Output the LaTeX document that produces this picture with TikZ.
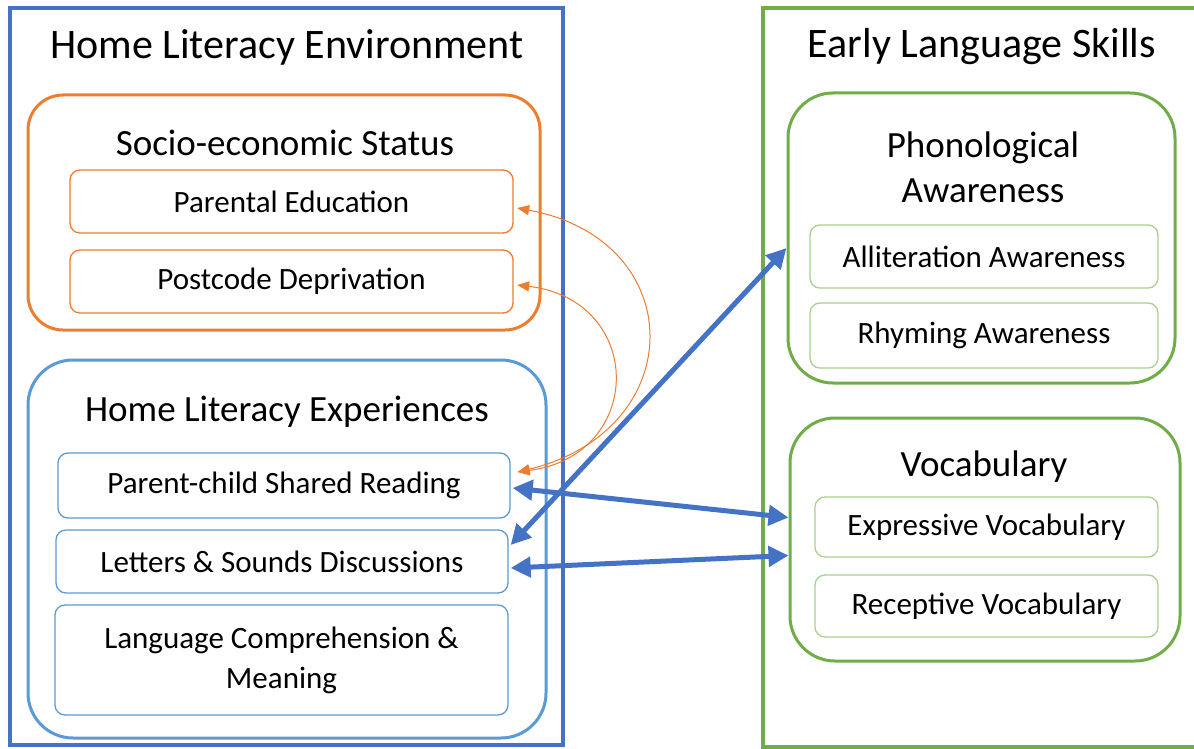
\documentclass[tikz,border=0pt]{standalone}
\usepackage{fontspec}
\setmainfont{Carlito}
\usepackage{tikz}
\usetikzlibrary{positioning}
\usetikzlibrary{arrows.meta}
\definecolor{hleblue}{HTML}{4472C4}
\definecolor{expblue}{HTML}{5B9BD5}
\definecolor{sesorange}{HTML}{ED7D31}
\definecolor{elsgreen}{HTML}{70AD47}
\definecolor{itemgreen}{HTML}{A9D18E}
\newcommand\headfont{\fontsize{42}{50}\selectfont}
\newcommand\groupfont{\fontsize{37}{45}\selectfont}
\newcommand\itemfont{\fontsize{31}{40}\selectfont}
\tikzset{size/.style 2 args={minimum width=#1pt, minimum height=#2pt}}
\tikzset{frame/.style={draw, line width=4pt, inner sep=0pt}}
\tikzset{group/.style={draw, line width=3pt, rounded corners=40pt, inner sep=0pt}}
\tikzset{item/.style={draw, line width=1.3pt, rounded corners=10pt, inner sep=0pt, font=\itemfont, align=center}}
\tikzset{headline/.style={font=\headfont}}
\tikzset{groupline/.style={font=\groupfont, align=center}}
\tikzset{link/.style={hleblue, line width=5pt, {Triangle[length=20pt,width=20pt]}-{Triangle[length=20pt,width=20pt]}}}
\tikzset{seslink/.style={sesorange, line width=1pt, {Triangle[length=12pt,width=10pt]}-{Triangle[length=12pt,width=10pt]}}}

\begin{document}
\begin{tikzpicture}[x=1pt,y=-1pt]
\useasboundingbox (0,0) rectangle (1194,749);
\fill[white] (0,0) rectangle (1194,749);
% home literacy environment
\node[frame, draw=hleblue, size={553}{737}] (hle) at (286.5,376.5) {};
\node[headline] (hletitle) at (287,47) {Home Literacy Environment};
\node[group, draw=sesorange, size={512}{235}, rounded corners=35pt] (ses) at (284,212.5) {};
\node[groupline] (sestitle) at (285,143) {Socio-economic Status};
\node[item, draw=sesorange, size={443}{63}] (pared) at (291.5,201.5) {Parental Education};
\node[item, draw=sesorange, size={443}{63}] (postcode) at (291.5,281.5) {Postcode Deprivation};
\node[group, draw=expblue, size={518}{378}, rounded corners=45pt] (hlexp) at (287,549) {};
\node[groupline] (hlexptitle) at (287,412) {Home Literacy Experiences};
\node[item, draw=expblue, size={452}{65}] (shared) at (284,485.5) {Parent-child Shared Reading};
\node[item, draw=expblue, size={452}{63}] (letters) at (282,561.5) {Letters \& Sounds Discussions};
\node[item, draw=expblue, size={453}{110}] (langcomp) at (281.5,660) {Language Comprehension \&\\Meaning};
% early language skills
\begin{scope}
\clip (0,0) rectangle (1194,749);
\node[frame, draw=elsgreen, size={447}{739}] (els) at (986.5,377.5) {};
\end{scope}
\node[headline] (elstitle) at (982,47) {Early Language Skills};
\node[group, draw=elsgreen, size={387}{290}, rounded corners=45pt] (phono) at (981.5,238) {};
\node[groupline] (phonotitle) at (983,167) {Phonological\\Awareness};
\node[item, draw=itemgreen, size={348}{63}] (allit) at (984,256.5) {Alliteration Awareness};
\node[item, draw=itemgreen, size={348}{65}] (rhyme) at (984,335.5) {Rhyming Awareness};
\node[group, draw=elsgreen, size={390}{243}, rounded corners=45pt] (vocab) at (985,539.5) {};
\node[groupline] (vocabtitle) at (984,467) {Vocabulary};
\node[item, draw=itemgreen, size={343}{60}] (expr) at (986.5,527) {Expressive Vocabulary};
\node[item, draw=itemgreen, size={343}{62}] (recep) at (986.5,606) {Receptive Vocabulary};
% links
\draw[seslink] ([shift={(7,-13.5)}]shared.east) .. controls +(173,-42) and +(173,32) .. ([shift={(3.5,6.5)}]pared.east);
\draw[seslink] ([shift={(7,-13.5)}]shared.east) .. controls +(128,-17) and +(128,15) .. ([shift={(3.5,3.5)}]postcode.east);
\draw[link] ([shift={(2,-16.5)}]letters.east) -- ([yshift=-10pt]phono.west);
\draw[link] ([shift={(2,2.5)}]shared.east) -- ([yshift=22pt]vocab.west);
\draw[link] ([shift={(2,6.5)}]letters.east) -- ([yshift=-16pt]vocab.west);
\end{tikzpicture}
\end{document}
